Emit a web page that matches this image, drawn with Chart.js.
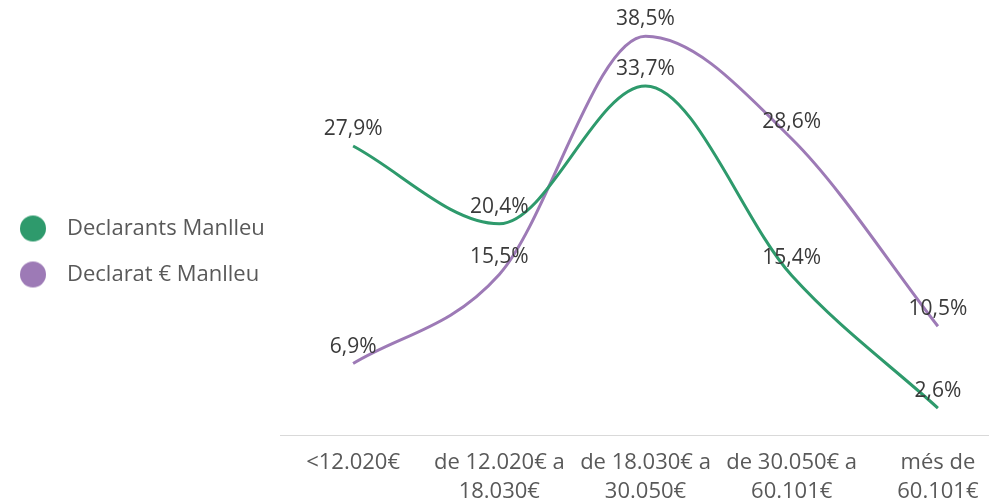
<!DOCTYPE html>
<html>
<head>
<meta charset="utf-8">
<script src="https://cdn.jsdelivr.net/npm/chart.js@4/dist/chart.umd.min.js"></script>
<style>
  html, body { margin: 0; padding: 0; background: #fff; overflow: hidden; }
  #wrap { width: 1011px; height: 503px; }
</style>
</head>
<body>
<div id="wrap"><canvas id="grafico"></canvas></div>
<script>
const categories = [['<12.020€'], ['de 12.020€ a', '18.030€'], ['de 18.030€ a', '30.050€'], ['de 30.050€ a', '60.101€'], ['més de', '60.101€']]
const seriesNames = ['Declarants Manlleu', 'Declarat € Manlleu']
const declarants = [27.9, 20.4, 33.7, 15.4, 2.6]
const declarat = [6.9, 15.5, 38.5, 28.6, 10.5]
const colors = ['#2E9A6C', '#9D7AB6']

const FONT = "'Open Sans'"
Chart.defaults.font.family = FONT

// round legend markers, drawn a bit left of the box so the text sits further out
function dot(color) {
  const c = document.createElement('canvas')
  c.width = 48
  c.height = 30
  const g = c.getContext('2d')
  g.fillStyle = color
  g.beginPath()
  g.arc(17, 15, 13, 0, Math.PI * 2)
  g.fill()
  return c
}
const dots = colors.map(dot)

const valueLabels = {
  id: 'valueLabels',
  afterDatasetsDraw(chart) {
    const ctx = chart.ctx
    ctx.save()
    ctx.font = `21px ${FONT}`
    ctx.fillStyle = '#3a3a3a'
    ctx.textAlign = 'center'
    ctx.textBaseline = 'middle'
    chart.data.datasets.forEach((ds, i) => {
      chart.getDatasetMeta(i).data.forEach((pt, j) => {
        ctx.fillText(ds.data[j].toFixed(1).replace('.', ',') + '%', pt.x, pt.y - 17)
      })
    })
    ctx.restore()
  }
}

const ctxGrafico = document.getElementById('grafico')

new Chart(ctxGrafico, {
  type: 'line',
  data: {
    labels: categories,
    datasets: [{
      label: seriesNames[0],
      data: declarants,
      borderColor: colors[0],
      backgroundColor: colors[0],
      borderWidth: 3,
      pointRadius: 0,
      cubicInterpolationMode: 'monotone'
    }, {
      label: seriesNames[1],
      data: declarat,
      borderColor: colors[1],
      backgroundColor: colors[1],
      borderWidth: 3,
      pointRadius: 0,
      cubicInterpolationMode: 'monotone'
    }]
  },
  options: {
    responsive: true,
    maintainAspectRatio: false,
    animation: false,
    layout: { padding: 0 },
    plugins: {
      tooltip: { enabled: false },
      legend: {
        position: 'left',
        maxWidth: 300,
        labels: {
          usePointStyle: true,
          pointStyleWidth: 32,
          padding: 24,
          color: '#595959',
          font: { size: 22 },
          generateLabels(chart) {
            const items = Chart.defaults.plugins.legend.labels.generateLabels(chart)
            items.forEach((it, i) => { it.pointStyle = dots[i] })
            return items
          }
        }
      }
    },
    scales: {
      x: {
        offset: true,
        grid: { display: false, drawTicks: false },
        border: { display: true, color: '#d9d9d9', width: 1 },
        ticks: {
          autoSkip: false,
          maxRotation: 0,
          padding: 13,
          color: '#595959',
          font: { size: 22, lineHeight: 1.32 }
        },
        afterFit(scale) { scale.height = 68 }
      },
      y: {
        min: 0,
        max: 42,
        grid: { display: false },
        border: { display: false },
        ticks: { display: false },
        afterFit(scale) { scale.width = 280 - scale.chart.legend.width }
      }
    }
  },
  plugins: [valueLabels]
})
</script>
</body>
</html>
